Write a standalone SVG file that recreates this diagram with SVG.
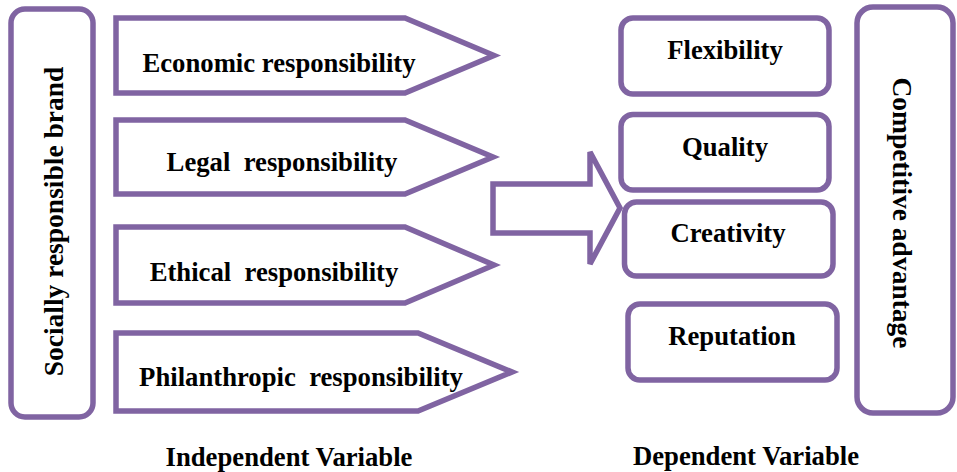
<svg xmlns="http://www.w3.org/2000/svg" width="957" height="472" viewBox="0 0 957 472">
  <style>
    .shape { fill: #ffffff; stroke: #8064A2; stroke-width: 5.5; stroke-linejoin: miter; }
    .arrow { fill: none; stroke: #8064A2; stroke-width: 5.5; stroke-linejoin: miter; }
    .lbl { font-family: "Liberation Serif", "DejaVu Serif", serif; font-weight: bold; font-size: 26.7px; fill: #000000; text-anchor: middle; }
    .vlbl { font-family: "Liberation Serif", "DejaVu Serif", serif; font-weight: bold; font-size: 27.5px; fill: #000000; text-anchor: middle; }
  </style>
  <rect width="957" height="472" fill="#ffffff"/>

  <!-- block arrow between the two columns -->
  <g id="connectors">
    <path class="arrow" d="M493,184 L590,184 L590,152 L620,208 L590,264 L590,233 L493,233 Z"/>
  </g>

  <!-- independent side -->
  <g id="socially-responsible-brand">
    <rect class="shape" x="11" y="9" width="82" height="408" rx="14"/>
    <text class="vlbl" transform="translate(63,221.5) rotate(-90)">Socially responsible brand</text>
  </g>

  <g id="economic">
    <path class="shape" d="M116,18 L405,18 L494,55.5 L405,93 L116,93 Z"/>
    <text class="lbl" x="279" y="71.5">Economic responsibility</text>
  </g>
  <g id="legal">
    <path class="shape" d="M116,120 L405,120 L493,157 L405,194 L116,194 Z"/>
    <text class="lbl" x="282" y="171" xml:space="preserve">Legal  responsibility</text>
  </g>
  <g id="ethical">
    <path class="shape" d="M116,227 L405,227 L494,265 L405,303 L116,303 Z"/>
    <text class="lbl" x="274" y="281" xml:space="preserve">Ethical  responsibility</text>
  </g>
  <g id="philanthropic">
    <path class="shape" d="M116,333 L418,333 L512,372 L418,411 L116,411 Z"/>
    <text class="lbl" x="301" y="386" xml:space="preserve">Philanthropic  responsibility</text>
  </g>

  <!-- dependent side -->
  <g id="flexibility">
    <rect class="shape" x="621" y="18" width="208" height="76" rx="12"/>
    <text class="lbl" x="725" y="59">Flexibility</text>
  </g>
  <g id="quality">
    <rect class="shape" x="621" y="114.5" width="208" height="75.5" rx="12"/>
    <text class="lbl" x="725" y="155.5">Quality</text>
  </g>
  <g id="creativity">
    <rect class="shape" x="624.5" y="202" width="208.5" height="74" rx="12"/>
    <text class="lbl" x="728" y="242">Creativity</text>
  </g>
  <g id="reputation">
    <rect class="shape" x="628" y="304" width="209" height="76" rx="12"/>
    <text class="lbl" x="732" y="345">Reputation</text>
  </g>

  <g id="competitive-advantage">
    <rect class="shape" x="857" y="7" width="96" height="406" rx="16"/>
    <text class="vlbl" transform="translate(893,213) rotate(90)">Competitive advantage</text>
  </g>

  <!-- column captions -->
  <g id="captions">
    <text class="lbl" x="289" y="466">Independent Variable</text>
    <text class="lbl" x="746" y="465">Dependent Variable</text>
  </g>
</svg>
